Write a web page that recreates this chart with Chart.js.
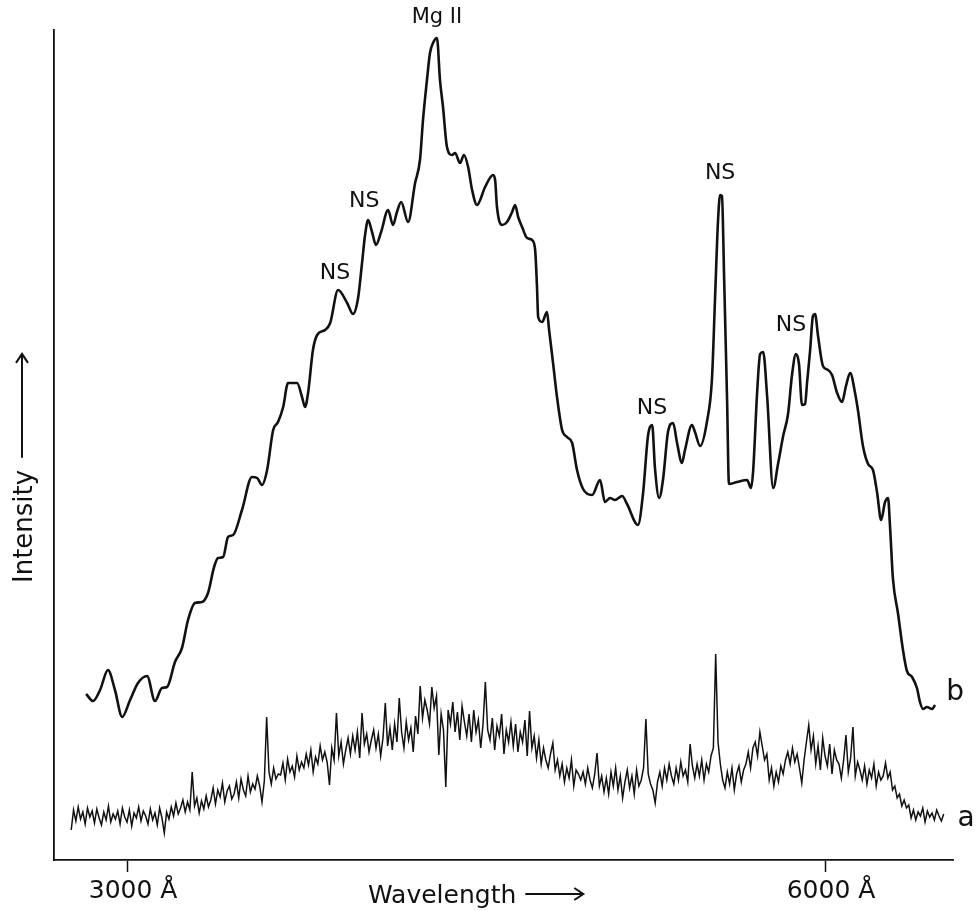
<!DOCTYPE html>
<html>
<head>
<meta charset="utf-8">
<script src="https://cdn.jsdelivr.net/npm/chart.js@4.4.1/dist/chart.umd.min.js"></script>
<style>
  html, body { margin: 0; padding: 0; background: #ffffff; }
  #wrap { width: 977px; height: 911px; }
</style>
</head>
<body>
<div id="wrap"><canvas id="c" width="977" height="911"></canvas></div>
<script>
// ---------------- data (wavelength in Å, intensity in arbitrary units) ----------------
const tickValues = [3000, 6000];
const tickLabels = ['3000 Å', '6000 Å'];

// trace a : raw (noisy) spectrum
const waveA = [
  2760, 2770, 2780, 2790, 2800, 2810, 2820, 2830, 2840, 2850,
  2860, 2870, 2880, 2890, 2900, 2910, 2920, 2930, 2940, 2950,
  2960, 2970, 2980, 2990, 3000, 3010, 3020, 3030, 3040, 3050,
  3060, 3070, 3080, 3090, 3100, 3110, 3120, 3130, 3140, 3150,
  3160, 3170, 3180, 3190, 3200, 3210, 3220, 3230, 3240, 3250,
  3260, 3270, 3280, 3290, 3300, 3310, 3320, 3330, 3340, 3350,
  3360, 3370, 3380, 3390, 3400, 3410, 3420, 3430, 3440, 3450,
  3460, 3470, 3480, 3490, 3500, 3510, 3520, 3530, 3540, 3550,
  3560, 3570, 3580, 3590, 3600, 3610, 3620, 3630, 3640, 3650,
  3660, 3670, 3680, 3690, 3700, 3710, 3720, 3730, 3740, 3750,
  3760, 3770, 3780, 3790, 3800, 3810, 3820, 3830, 3840, 3850,
  3860, 3870, 3880, 3890, 3900, 3910, 3920, 3930, 3940, 3950,
  3960, 3970, 3980, 3990, 4000, 4010, 4020, 4030, 4040, 4050,
  4060, 4070, 4080, 4090, 4100, 4110, 4120, 4130, 4140, 4150,
  4160, 4170, 4180, 4190, 4200, 4210, 4220, 4230, 4240, 4250,
  4260, 4270, 4280, 4290, 4300, 4310, 4320, 4330, 4340, 4350,
  4360, 4370, 4380, 4390, 4400, 4410, 4420, 4430, 4440, 4450,
  4460, 4470, 4480, 4490, 4500, 4510, 4520, 4530, 4540, 4550,
  4560, 4570, 4580, 4590, 4600, 4610, 4620, 4630, 4640, 4650,
  4660, 4670, 4680, 4690, 4700, 4710, 4720, 4730, 4740, 4750,
  4760, 4770, 4780, 4790, 4800, 4810, 4820, 4830, 4840, 4850,
  4860, 4870, 4880, 4890, 4900, 4910, 4920, 4930, 4940, 4950,
  4960, 4970, 4980, 4990, 5000, 5010, 5020, 5030, 5040, 5050,
  5060, 5070, 5080, 5090, 5100, 5110, 5120, 5130, 5140, 5150,
  5160, 5170, 5180, 5190, 5200, 5210, 5220, 5230, 5240, 5250,
  5260, 5270, 5280, 5290, 5300, 5310, 5320, 5330, 5340, 5350,
  5360, 5370, 5380, 5390, 5400, 5410, 5420, 5430, 5440, 5450,
  5460, 5470, 5480, 5490, 5500, 5510, 5520, 5530, 5540, 5550,
  5560, 5570, 5580, 5590, 5600, 5610, 5620, 5630, 5640, 5650,
  5660, 5670, 5680, 5690, 5700, 5710, 5720, 5730, 5740, 5750,
  5760, 5770, 5780, 5790, 5800, 5810, 5820, 5830, 5840, 5850,
  5860, 5870, 5880, 5890, 5900, 5910, 5920, 5930, 5940, 5950,
  5960, 5970, 5980, 5990, 6000, 6010, 6020, 6030, 6040, 6050,
  6060, 6070, 6080, 6090, 6100, 6110, 6120, 6130, 6140, 6150,
  6160, 6170, 6180, 6190, 6200, 6210, 6220, 6230, 6240, 6250,
  6260, 6270, 6280, 6290, 6300, 6310, 6320, 6330, 6340, 6350,
  6360, 6370, 6380, 6390, 6400, 6410, 6420, 6430, 6440, 6450,
  6460, 6470, 6480, 6490, 6500, 6510
];
const intensityA = [
  30, 50, 39, 53, 41, 48, 36, 52, 43, 49,
  37, 51, 42, 35, 48, 40, 54, 38, 46, 41,
  49, 36, 52, 43, 38, 50, 34, 47, 42, 53,
  39, 49, 44, 36, 51, 40, 47, 35, 52, 42,
  27, 48, 41, 53, 44, 57, 46, 52, 60, 48,
  58, 50, 88, 54, 62, 47, 59, 51, 64, 53,
  60, 72, 56, 70, 63, 77, 58, 69, 74, 61,
  66, 78, 62, 81, 70, 64, 84, 68, 76, 71,
  84, 74, 58, 79, 143, 88, 76, 92, 81, 86,
  85, 97, 80, 101, 88, 94, 83, 104, 90, 98,
  92, 106, 95, 110, 88, 103, 96, 114, 100, 108,
  98, 75, 112, 100, 147, 104, 118, 96, 110, 122,
  106, 124, 110, 128, 102, 147, 116, 126, 108, 120,
  130, 112, 126, 104, 122, 157, 114, 132, 110, 136,
  118, 162, 128, 112, 138, 120, 132, 108, 144, 126,
  174, 142, 160, 150, 136, 173, 152, 164, 105, 146,
  130, 73, 150, 136, 158, 128, 148, 120, 154, 138,
  124, 146, 118, 150, 128, 140, 112, 136, 178, 130,
  120, 142, 110, 134, 124, 146, 106, 130, 118, 138,
  114, 136, 108, 128, 118, 140, 104, 149, 112, 124,
  102, 120, 96, 112, 100, 92, 106, 117, 90, 100,
  84, 96, 78, 92, 82, 100, 74, 90, 86, 80,
  88, 76, 92, 80, 72, 86, 107, 74, 84, 68,
  82, 66, 88, 74, 92, 70, 84, 62, 78, 90,
  72, 84, 66, 90, 74, 80, 92, 141, 86, 76,
  70, 57, 78, 88, 74, 92, 80, 96, 84, 76,
  92, 80, 98, 84, 90, 78, 116, 94, 82, 96,
  84, 100, 80, 96, 88, 104, 112, 206, 118, 96,
  80, 72, 88, 76, 92, 70, 86, 94, 78, 90,
  96, 108, 92, 112, 118, 104, 128, 114, 100, 106,
  80, 92, 74, 88, 78, 94, 86, 100, 108, 96,
  112, 98, 106, 92, 77, 100, 118, 135, 110, 124,
  96, 114, 90, 122, 104, 94, 116, 86, 110, 100,
  96, 82, 100, 125, 88, 102, 133, 84, 98, 90,
  80, 94, 76, 90, 82, 96, 74, 88, 80, 84,
  97, 82, 88, 70, 74, 62, 66, 54, 60, 52,
  55, 42, 50, 40, 48, 44, 52, 38, 49, 43,
  47, 40, 50, 44, 39, 46
];

// trace b : smoothed spectrum
const waveB = [
  2824, 2854, 2884, 2918, 2948, 2979, 3013, 3047, 3086, 3120,
  3150, 3172, 3206, 3236, 3262, 3292, 3322, 3348, 3374, 3391,
  3413, 3434, 3456, 3494, 3537, 3559, 3580, 3602, 3628, 3649,
  3671, 3692, 3731, 3752, 3765, 3778, 3799, 3817, 3851, 3873,
  3907, 3946, 3971, 3993, 4010, 4023, 4036, 4053, 4070, 4092,
  4122, 4143, 4160, 4178, 4208, 4238, 4259, 4272, 4289, 4302,
  4315, 4332, 4345, 4358, 4375, 4397, 4410, 4431, 4448, 4466,
  4483, 4504, 4539, 4573, 4582, 4590, 4612, 4633, 4655, 4668,
  4681, 4698, 4719, 4741, 4754, 4762, 4767, 4784, 4805, 4814,
  4831, 4848, 4870, 4891, 4913, 4934, 4960, 4999, 5033, 5054,
  5076, 5097, 5128, 5149, 5196, 5218, 5239, 5257, 5269, 5287,
  5304, 5325, 5347, 5364, 5385, 5398, 5428, 5441, 5463, 5493,
  5514, 5527, 5540, 5549, 5557, 5566, 5579, 5587, 5622, 5665,
  5682, 5691, 5708, 5721, 5734, 5751, 5777, 5798, 5820, 5841,
  5858, 5875, 5888, 5901, 5914, 5923, 5936, 5948, 5957, 5970,
  5991, 6013, 6030, 6052, 6073, 6090, 6108, 6129, 6142, 6163,
  6185, 6206, 6224, 6241, 6258, 6271, 6279, 6292, 6314, 6335,
  6352, 6374, 6395, 6408, 6421, 6438, 6460, 6473
];
const intensityB = [
  166, 159, 170, 190, 170, 143, 160, 177, 184, 159,
  172, 173, 198, 212, 240, 257, 258, 267, 293, 302,
  303, 323, 325, 350, 383, 382, 375, 390, 430, 438,
  453, 477, 477, 463, 453, 467, 510, 525, 530, 537,
  570, 557, 546, 562, 597, 625, 640, 628, 615, 628,
  650, 635, 648, 658, 638, 677, 700, 740, 780, 807,
  817, 822, 780, 753, 713, 705, 707, 697, 705, 693,
  670, 655, 673, 685, 680, 653, 635, 638, 648, 655,
  643, 633, 622, 620, 610, 573, 543, 538, 548, 530,
  497, 463, 430, 423, 417, 390, 371, 365, 380, 358,
  362, 360, 364, 356, 335, 367, 424, 435, 392, 362,
  381, 428, 437, 417, 397, 410, 435, 428, 414, 439,
  481, 560, 639, 665, 664, 585, 460, 376, 378, 380,
  372, 389, 467, 506, 508, 464, 372, 396, 424, 446,
  485, 506, 496, 455, 456, 478, 510, 544, 546, 524,
  494, 490, 485, 467, 458, 474, 487, 467, 449, 414,
  396, 390, 367, 340, 358, 362, 335, 281, 246, 210,
  189, 183, 172, 158, 151, 153, 151, 155
];

// text labels placed in data coordinates
const noteTexts = ['Mg II', 'NS', 'NS', 'NS', 'NS', 'NS', 'b', 'a'];
const noteWaves = [4332, 3894, 4019, 5549, 5256, 5854, 6559, 6606];
const noteIntensities = [842, 587, 659, 687, 452, 535, 167, 41];
const noteSizes = [21, 22, 22, 22, 22, 22, 28, 28];

const axisTitleX = 'Wavelength';
const axisTitleY = 'Intensity';

// ---------------- chart ----------------
const FONT = "'DejaVu Sans', 'Liberation Sans', sans-serif";
const INK = '#111111';

const textPlugin = {
  id: 'figureText',
  afterDraw(chart) {
    const ctx = chart.ctx;
    const xs = chart.scales.x, ys = chart.scales.y;
    const ca = chart.chartArea;
    ctx.save();
    ctx.fillStyle = INK;
    ctx.strokeStyle = INK;
    // peak annotations
    ctx.textAlign = 'center';
    ctx.textBaseline = 'middle';
    noteTexts.forEach((t, i) => {
      ctx.font = noteSizes[i] + 'px ' + FONT;
      ctx.fillText(t, xs.getPixelForValue(noteWaves[i]), ys.getPixelForValue(noteIntensities[i]));
    });
    // x axis title with arrow
    ctx.font = '25px ' + FONT;
    ctx.textAlign = 'left';
    ctx.textBaseline = 'alphabetic';
    const tx = ca.left + 314, ty = ca.bottom + 43;
    ctx.fillText(axisTitleX, tx, ty);
    const w = ctx.measureText(axisTitleX).width;
    const ax0 = tx + w + 9, ax1 = ax0 + 58, ay = ty - 9;
    ctx.lineWidth = 2;
    ctx.beginPath();
    ctx.moveTo(ax0, ay); ctx.lineTo(ax1, ay);
    ctx.moveTo(ax1 - 9, ay - 6); ctx.lineTo(ax1, ay); ctx.lineTo(ax1 - 9, ay + 6);
    ctx.stroke();
    // y axis title with arrow
    ctx.font = '26px ' + FONT;
    ctx.save();
    ctx.translate(ca.left - 22, ca.top + 553);
    ctx.rotate(-Math.PI / 2);
    ctx.fillText(axisTitleY, 0, 0);
    const wy = ctx.measureText(axisTitleY).width;
    const b0 = wy + 12, b1 = b0 + 104, by = -10;
    ctx.beginPath();
    ctx.moveTo(b0, by); ctx.lineTo(b1, by);
    ctx.moveTo(b1 - 9, by - 6); ctx.lineTo(b1, by); ctx.lineTo(b1 - 9, by + 6);
    ctx.stroke();
    ctx.restore();
    ctx.restore();
  }
};

new Chart(document.getElementById('c'), {
  type: 'line',
  data: {
    datasets: [
      {
        label: 'b',
        data: waveB.map((w, i) => ({ x: w, y: intensityB[i] })),
        borderColor: INK,
        borderWidth: 2.6,
        pointRadius: 0,
        cubicInterpolationMode: 'monotone',
        fill: false
      },
      {
        label: 'a',
        data: waveA.map((w, i) => ({ x: w, y: intensityA[i] })),
        borderColor: INK,
        borderWidth: 1.5,
        pointRadius: 0,
        tension: 0,
        fill: false
      }
    ]
  },
  options: {
    responsive: false,
    animation: false,
    layout: { padding: { top: 30, right: 24, bottom: 0, left: 0 } },
    plugins: { legend: { display: false }, tooltip: { enabled: false }, title: { display: false } },
    scales: {
      x: {
        type: 'linear',
        position: 'bottom',
        min: 2686,
        max: 6550,
        afterBuildTicks: (s) => { s.ticks = tickValues.map(v => ({ value: v })); },
        afterFit: (s) => { s.height = 51; },
        ticks: {
          callback: (v, i) => tickLabels[i],
          font: { family: FONT, size: 25 },
          color: INK,
          padding: 4,
          maxRotation: 0,
          autoSkip: false,
          labelOffset: 6
        },
        grid: { display: true, drawOnChartArea: false, drawTicks: true, tickLength: 12, tickWidth: 1.5, tickColor: INK },
        border: { display: true, color: INK, width: 1.8 }
      },
      y: {
        type: 'linear',
        min: 0,
        max: 830,
        afterFit: (s) => { s.width = 54; },
        ticks: { display: false },
        grid: { display: false },
        border: { display: true, color: INK, width: 1.8 }
      }
    }
  },
  plugins: [textPlugin]
});
</script>
</body>
</html>
